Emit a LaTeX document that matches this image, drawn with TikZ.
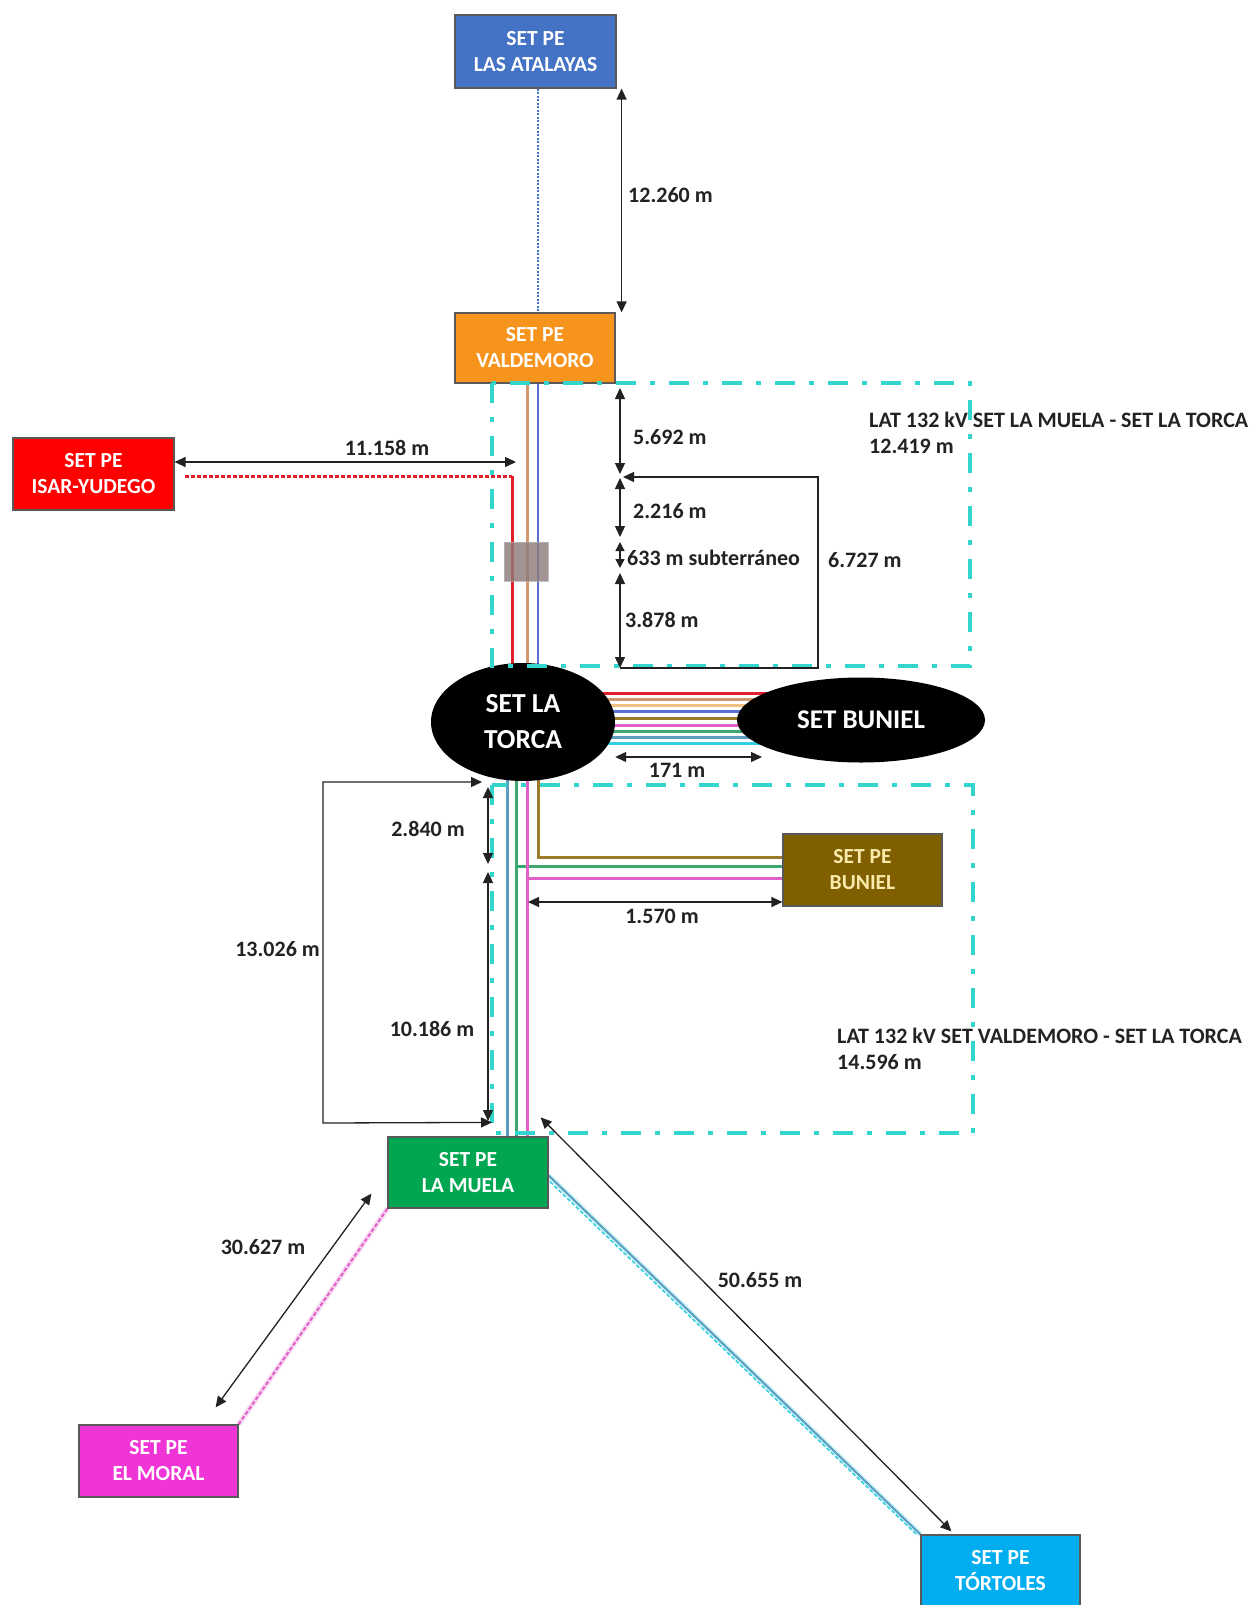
\documentclass[tikz,border=0pt]{standalone}
\usepackage{fontspec}
\setmainfont{Carlito}
\usetikzlibrary{arrows.meta,shapes.geometric}
\pgfdeclarelayer{bg}
\pgfsetlayers{bg,main}
\definecolor{atalc}{HTML}{4472C4}
\definecolor{valdc}{HTML}{F7941D}
\definecolor{isarc}{HTML}{FF0000}
\definecolor{muelac}{HTML}{00A650}
\definecolor{pebunc}{HTML}{7F5F00}
\definecolor{moralc}{HTML}{F035D6}
\definecolor{tortc}{HTML}{00AEEF}
\definecolor{latc}{HTML}{33D6CC}
\definecolor{redl}{HTML}{E0202A}
\definecolor{tanl}{HTML}{D0986C}
\definecolor{bluel}{HTML}{5A6FD0}
\definecolor{orl}{HTML}{F2C080}
\definecolor{olvl}{HTML}{9C7A2A}
\definecolor{mgl}{HTML}{E060C8}
\definecolor{grl}{HTML}{3CA870}
\definecolor{sbl}{HTML}{5B9EC0}
\definecolor{cyl}{HTML}{30D0E0}
\definecolor{txt}{HTML}{222222}
\begin{document}
\begin{tikzpicture}[x=1pt,y=-1pt,
  box/.style={draw=black!65, line width=1.2pt, text=white, font=\fontsize{21.5}{26}\selectfont\bfseries, align=center, inner sep=0pt},
  ell/.style={ellipse, fill=black, text=white, align=center, inner sep=0pt},
  dimarr/.style={line width=1.3pt, draw=txt, {Triangle[length=11pt,width=10pt]}-{Triangle[length=11pt,width=10pt]}},
  dimone/.style={line width=1.3pt, draw=txt, -{Triangle[length=11pt,width=10pt]}},
  lbl/.style={font=\fontsize{22}{26}\selectfont\bfseries, text=txt, inner sep=0pt, align=left},
  latbox/.style={draw=latc, line width=4pt, dash pattern=on 20pt off 14pt on 5pt off 14pt},
  wire/.style={line width=3pt}
]
\useasboundingbox (0,0) rectangle (1258,1605);

% stations
\node[box, fill=atalc, minimum width=161pt, minimum height=73pt] (atal) at (535.5,51.5) {SET PE\\LAS ATALAYAS};
\node[box, fill=valdc, minimum width=160pt, minimum height=70pt] (valde) at (535,348) {SET PE\\VALDEMORO};
\node[box, fill=isarc, minimum width=161pt, minimum height=72pt] (isar) at (93.5,474) {SET PE\\ISAR-YUDEGO};
\node[box, fill=muelac, minimum width=160pt, minimum height=71pt] (muela) at (468,1172.5) {SET PE\\LA MUELA};
\node[box, fill=pebunc, text={rgb,255:red,250;green,235;blue,170}, minimum width=159pt, minimum height=72pt] (pebun) at (862.5,870) {SET PE\\BUNIEL};
\node[box, fill=moralc, minimum width=159pt, minimum height=72pt] (moral) at (158.5,1461) {SET PE\\EL MORAL};
\node[box, fill=tortc, minimum width=159pt, minimum height=72pt] (tort) at (1000.5,1571) {SET PE\\TÓRTOLES};
\node[ell, minimum width=184pt, minimum height=118pt, font=\fontsize{27.5}{36}\selectfont\bfseries] (torca) at (523,722) {SET LA\\TORCA};
\node[ell, minimum width=248pt, minimum height=85pt, font=\fontsize{27}{30}\selectfont\bfseries] (bun) at (861,720) {SET BUNIEL};

% wires (behind stations)
\begin{pgfonlayer}{bg}
\fill[white] (0,0) rectangle (1258,1605);
\foreach \dy/\c in {29/redl,23/tanl,17/orl,11/bluel,4/olvl,-3/mgl,-9/grl,-15/sbl,-21/cyl}
  \draw[wire, \c] ([yshift=\dy pt]torca.center) -- ([yshift=\dy pt]torca.center -| bun.center);
\draw[atalc, line width=1.6pt, dash pattern=on 2pt off 1.5pt] ([xshift=2.5pt]atal.south) -- ([xshift=3pt]valde.north);
\draw[wire, bluel, line width=2.2pt] ([xshift=3pt]valde.south) -- ([xshift=15pt]torca.center);
\draw[wire, tanl] ([xshift=-8pt]valde.south) -- ([xshift=4pt]torca.center);
\coordinate (rc) at (512,476);
\draw[wire, redl, dash pattern=on 4pt off 2pt] ([xshift=10pt,yshift=-2pt]isar.east) -- (rc);
\draw[wire, redl] (rc) -- ([xshift=-11pt]torca.center);
\draw[wire, sbl] ([xshift=39pt]muela.north) -- ([xshift=-16pt]torca.center);
\draw[wire, grl] ([xshift=48pt]muela.north) -- ([xshift=-7pt]torca.center);
\draw[wire, mgl] ([xshift=59pt]muela.north) -- ([xshift=4pt]torca.center);
\draw[wire, olvl] ([xshift=15pt]torca.center) |- ([yshift=13pt]pebun.west);
\draw[wire, grl] ([xshift=-7pt]torca.center) |- ([yshift=4pt]pebun.west);
\draw[wire, mgl] ([xshift=4pt]torca.center) |- ([yshift=-8pt]pebun.west);
\draw[line width=5pt, mgl!25] (moral.north east) -- (muela.south west);
\draw[mgl, line width=2pt, dash pattern=on 4pt off 2pt] (moral.north east) -- (muela.south west);
\draw[line width=5pt, cyl!25] ([yshift=-3pt]muela.east) -- (tort.north west);
\draw[sbl, line width=2pt] ([yshift=-3pt]muela.east) -- (tort.north west);
\draw[cyl, line width=1.5pt, dash pattern=on 4pt off 2pt] ([xshift=-3pt,yshift=-5pt]muela.east) -- ([xshift=-4pt]tort.north west);
\end{pgfonlayer}

% underground joint
\node[fill={rgb,255:red,140;green,122;blue,122}, opacity=0.8, draw=black!30, minimum width=44pt, minimum height=39pt, inner sep=0pt] (joint) at (526,561.5) {};

% LAT corridors
\draw[latbox] (492,383) rectangle (970,666);
\draw[latbox] (492,785) rectangle (973,1133);

% dimensions
\draw[dimarr] ([xshift=5pt]atal.south east) -- ([xshift=6pt]valde.north east);
\node[lbl, anchor=west] (l1) at (628,195) {12.260 m};
\coordinate (isarend) at (516,462);
\draw[dimarr] ([yshift=12pt]isar.east) -- (isarend);
\node[lbl] (l2) at (387,448) {11.158 m};

\coordinate (c0) at (620,388);
\coordinate (c1) at (620,474);
\coordinate (c2) at (620,478);
\coordinate (c3) at (620,537);
\coordinate (c4) at (620,542);
\coordinate (c5) at (620,568);
\coordinate (c6) at (620,573);
\coordinate (c7) at (620,668);
\draw[dimarr] (c0) -- (c1);
\draw[dimarr] (c2) -- (c3);
\draw[line width=1.3pt, draw=txt, {Triangle[length=9pt,width=9pt]}-{Triangle[length=9pt,width=9pt]}] (c4) -- (c5);
\draw[dimarr] (c6) -- (c7);
\draw[dimone] (c7) -- (818,668) -- (818,477) -- (623,477);
\node[lbl, anchor=west] (l3) at (633,437) {5.692 m};
\node[lbl, anchor=west] (l4) at (633,511) {2.216 m};
\node[lbl, anchor=west] (l5) at (627,558) {633 m subterráneo};
\node[lbl, anchor=west] (l6) at (625,620) {3.878 m};
\node[lbl, anchor=west] (l7) at (828,560) {6.727 m};
\node[lbl, anchor=west] (l8) at (869,433) {LAT 132 kV SET LA MUELA - SET LA TORCA\\12.419 m};

\coordinate (e171) at (762,757);
\draw[dimarr] ([yshift=-35pt]torca.east) -- (e171);
\node[lbl] (l9) at (677,770) {171 m};

\draw[line width=1.3pt, draw=txt, {Triangle[length=11pt,width=10pt]}-{Triangle[length=11pt,width=10pt]}]
  ([xshift=-41pt,yshift=-60pt]torca.center) -- (323,782) -- (323,1123) -- ([xshift=24pt,yshift=14pt]muela.north);
\node[lbl, anchor=east] (l10) at (320,949) {13.026 m};
\coordinate (v0) at (488,787);
\coordinate (v1) at (488,864);
\coordinate (v2) at (488,872);
\coordinate (v3) at (488,1121);
\draw[dimarr] (v0) -- (v1);
\draw[dimarr] (v2) -- (v3);
\node[lbl] (l11) at (428,829) {2.840 m};
\node[lbl] (l12) at (432,1029) {10.186 m};

\coordinate (b0) at (528,902);
\draw[dimarr] (b0) -- ([yshift=-32pt]pebun.west);
\node[lbl] (l13) at (662,916) {1.570 m};
\node[lbl, anchor=west] (l14) at (837,1049) {LAT 132 kV SET VALDEMORO - SET LA TORCA\\14.596 m};

\draw[dimarr] ([xshift=-23pt,yshift=17pt]moral.north east) -- ([xshift=-16pt,yshift=15pt]muela.south west);
\node[lbl] (l15) at (263,1247) {30.627 m};
\draw[dimarr] ([xshift=-8pt,yshift=19pt]muela.north east) -- ([xshift=31pt,yshift=3pt]tort.north west);
\node[lbl] (l16) at (760,1280) {50.655 m};
\end{tikzpicture}
\end{document}
